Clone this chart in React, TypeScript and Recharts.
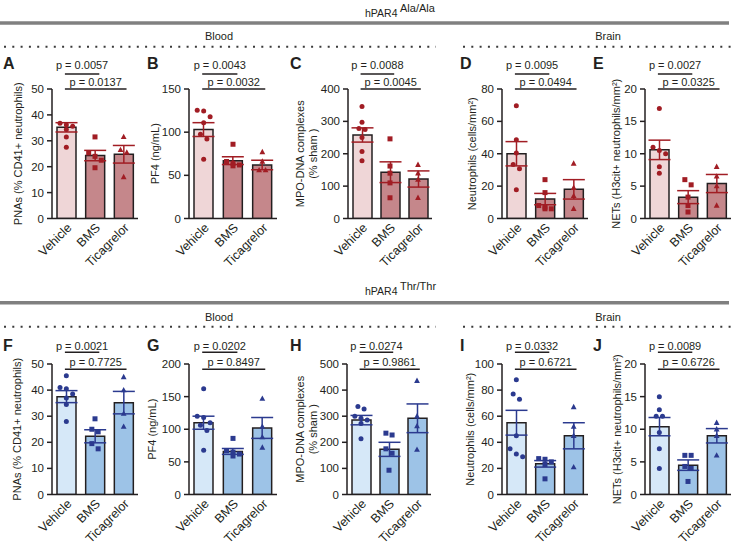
import React from "react";
import {
  Bar,
  Cell,
  ComposedChart,
  ErrorBar,
  ReferenceLine,
  Scatter,
  XAxis,
  YAxis,
} from "recharts";

const FONT = "'Liberation Sans', Arial, Helvetica, sans-serif";
const INK = "#231f20";

const GROUPS = ["Vehicle", "BMS", "Ticagrelor"];

// hPAR4 Ala/Ala
const A_MEAN = [35.2, 24.3, 24.8];
const A_SEM = [1.8, 2.0, 3.4];
const A_VEH = [36.8, 36.2, 35.6, 34.4, 31.5, 27.5];
const A_BMS = [31.5, 25.3, 24, 22.5, 19.6];
const A_TIC = [31.5, 26.5, 25.5, 16];
const A_P = ["p = 0.0057", "p = 0.0137"];
const A_TICKS = [0, 10, 20, 30, 40, 50];

const B_MEAN = [103, 67, 62];
const B_SEM = [8, 4.5, 5.5];
const B_VEH = [125.5, 124.5, 118, 111, 97.5, 92, 68.5];
const B_BMS = [86, 66, 64, 62, 61];
const B_TIC = [77, 66, 56, 56];
const B_P = ["p = 0.0043", "p = 0.0032"];
const B_TICKS = [0, 50, 100, 150];

const C_MEAN = [258, 143, 122];
const C_SEM = [22, 32, 25];
const C_VEH = [346, 297, 278, 275, 250, 207, 178];
const C_BMS = [246, 162, 140, 110, 64];
const C_TIC = [166, 140, 120, 64];
const C_P = ["p = 0.0088", "p = 0.0045"];
const C_TICKS = [0, 100, 200, 300, 400];

const D_MEAN = [40, 12, 18];
const D_SEM = [7.5, 3.5, 6];
const D_VEH = [69.7, 48.6, 40.4, 33.4, 30.8, 17.8];
const D_BMS = [24, 16, 8, 7, 6, 6];
const D_TIC = [34, 19, 14, 6];
const D_P = ["p = 0.0095", "p = 0.0494"];
const D_TICKS = [0, 20, 40, 60, 80];

const E_MEAN = [10.6, 3.3, 5.4];
const E_SEM = [1.5, 1.0, 1.4];
const E_VEH = [17, 11, 10.5, 10, 8, 7];
const E_BMS = [6, 5.2, 3.3, 2, 1];
const E_TIC = [8, 6.5, 5, 2];
const E_P = ["p = 0.0027", "p = 0.0325"];
const E_TICKS = [0, 5, 10, 15, 20];

// hPAR4 Thr/Thr
const F_MEAN = [37.5, 22.3, 35.2];
const F_SEM = [2.3, 2.5, 4.3];
const F_VEH = [45.5, 41, 40.5, 38.5, 37, 34.5, 28];
const F_BMS = [29, 25, 24, 19.5, 17.5];
const F_TIC = [45, 40, 31, 26];
const F_P = ["p = 0.0021", "p = 0.7725"];
const F_TICKS = [0, 10, 20, 30, 40, 50];

const G_MEAN = [110, 66, 102];
const G_SEM = [10, 4.5, 16];
const G_VEH = [162, 120, 118, 110, 106, 98, 68];
const G_BMS = [86, 67, 65, 62, 59];
const G_TIC = [147, 104, 88, 72];
const G_P = ["p = 0.0202", "p = 0.8497"];
const G_TICKS = [0, 50, 100, 150, 200];

const H_MEAN = [285, 173, 292];
const H_SEM = [18, 27, 55];
const H_VEH = [337, 328, 300, 292, 285, 272, 214];
const H_BMS = [235, 228, 175, 158, 93];
const H_TIC = [436, 300, 262, 172];
const H_P = ["p = 0.0274", "p = 0.9861"];
const H_TICKS = [0, 100, 200, 300, 400, 500];

const I_MEAN = [55, 23.5, 45];
const I_SEM = [9.5, 2.5, 10];
const I_VEH = [88, 77, 73, 45, 35, 31, 29];
const I_BMS = [27.5, 27, 25, 23, 12];
const I_TIC = [67, 52, 45, 21];
const I_P = ["p = 0.0332", "p = 0.6721"];
const I_TICKS = [0, 20, 40, 60, 80, 100];

const J_MEAN = [10.4, 4.5, 9.0];
const J_SEM = [1.4, 0.8, 1.1];
const J_VEH = [15, 13, 12, 12, 9.5, 7, 4];
const J_BMS = [6, 6, 4.3, 4, 2];
const J_TIC = [11, 10, 9, 6];
const J_P = ["p = 0.0089", "p = 0.6726"];
const J_TICKS = [0, 5, 10, 15, 20];

const RED = { light: "#efd6d7", dark: "#c5878b", point: "#a11d24" };
const BLUE = { light: "#d6e8f8", dark: "#9dc3e7", point: "#2b3a8f" };

const TOP_ROW = { top: 89, bottom: 218.5, brackets: [1.115, 1.0], offsets: [5, 3] };
const BOT_ROW = { top: 364, bottom: 494.5, brackets: [1.09, 0.96], offsets: [2, 3] };

const PANELS = [
  { id: "A", row: TOP_ROW, left: 52, right: 138, max: 50, ticks: A_TICKS, mean: A_MEAN, sem: A_SEM, pts: [A_VEH, A_BMS, A_TIC], p: A_P, theme: RED, ylabel: ["PNAs (% CD41+ neutrophils)"], lx: [18] },
  { id: "B", row: TOP_ROW, left: 189, right: 277, max: 150, ticks: B_TICKS, mean: B_MEAN, sem: B_SEM, pts: [B_VEH, B_BMS, B_TIC], p: B_P, theme: RED, ylabel: ["PF4 (ng/mL)"], lx: [155] },
  { id: "C", row: TOP_ROW, left: 348, right: 432, max: 400, ticks: C_TICKS, mean: C_MEAN, sem: C_SEM, pts: [C_VEH, C_BMS, C_TIC], p: C_P, theme: RED, ylabel: ["MPO-DNA complexes", "(% sham )"], lx: [300, 313] },
  { id: "D", row: TOP_ROW, left: 502, right: 588, max: 80, ticks: D_TICKS, mean: D_MEAN, sem: D_SEM, pts: [D_VEH, D_BMS, D_TIC], p: D_P, theme: RED, ylabel: ["Neutrophils (cells/mm²)"], lx: [472] },
  { id: "E", row: TOP_ROW, left: 645, right: 731, max: 20, ticks: E_TICKS, mean: E_MEAN, sem: E_SEM, pts: [E_VEH, E_BMS, E_TIC], p: E_P, theme: RED, ylabel: ["NETs (H3cit+ neutrophils/mm²)"], lx: [616] },
  { id: "F", row: BOT_ROW, left: 52, right: 138, max: 50, ticks: F_TICKS, mean: F_MEAN, sem: F_SEM, pts: [F_VEH, F_BMS, F_TIC], p: F_P, theme: BLUE, ylabel: ["PNAs (% CD41+ neutrophils)"], lx: [17] },
  { id: "G", row: BOT_ROW, left: 189, right: 277, max: 200, ticks: G_TICKS, mean: G_MEAN, sem: G_SEM, pts: [G_VEH, G_BMS, G_TIC], p: G_P, theme: BLUE, ylabel: ["PF4 (ng/mL)"], lx: [152] },
  { id: "H", row: BOT_ROW, left: 347, right: 431, max: 500, ticks: H_TICKS, mean: H_MEAN, sem: H_SEM, pts: [H_VEH, H_BMS, H_TIC], p: H_P, theme: BLUE, ylabel: ["MPO-DNA complexes", "(% sham )"], lx: [300, 313] },
  { id: "I", row: BOT_ROW, left: 502, right: 588, max: 100, ticks: I_TICKS, mean: I_MEAN, sem: I_SEM, pts: [I_VEH, I_BMS, I_TIC], p: I_P, theme: BLUE, ylabel: ["Neutrophils (cells/mm²)"], lx: [470] },
  { id: "J", row: BOT_ROW, left: 645, right: 731, max: 20, ticks: J_TICKS, mean: J_MEAN, sem: J_SEM, pts: [J_VEH, J_BMS, J_TIC], p: J_P, theme: BLUE, ylabel: ["NETs (H3cit+ neutrophils/mm²)"], lx: [617] },
];

const YW = 56; // y axis area
const MT = 40;
const MR = 4;
const XH = 60;

// spread points that sit close together, like a prism scatter
function spread(values: number[], max: number) {
  const order = values.map((v, i) => ({ v, i })).sort((a, b) => b.v - a.v);
  const out = new Array(values.length).fill(0);
  let group: { v: number; i: number }[] = [];
  const flush = () => {
    const n = group.length;
    group.forEach((g, k) => (out[g.i] = (k - (n - 1) / 2) * 0.22));
    group = [];
  };
  order.forEach((o) => {
    if (group.length && (group[group.length - 1].v - o.v > max * 0.045 || group.length >= 3)) flush();
    group.push(o);
  });
  flush();
  return out;
}

const marker = (kind: number, color: string) => (props: any) => {
  const { cx, cy } = props;
  if (cx == null || cy == null) return <g />;
  if (kind === 0) return <circle cx={cx} cy={cy} r={2.5} fill={color} />;
  if (kind === 1) return <rect x={cx - 2.5} y={cy - 2.5} width={5} height={5} fill={color} />;
  return <polygon points={`${cx},${cy - 3.2} ${cx + 2.9},${cy + 2.2} ${cx - 2.9},${cy + 2.2}`} fill={color} />;
};

function RotTick(props: any) {
  const { x, y, payload } = props;
  const ax = x + 6;
  const ay = y + 10;
  return (
    <text x={ax} y={ay} transform={`rotate(-45 ${ax} ${ay})`} textAnchor="end" fontSize={12.5} fill={INK} fontFamily={FONT}>
      {payload.value}
    </text>
  );
}

function Panel({ p }: { p: any }) {
  const { top, bottom, brackets, offsets } = p.row;
  const w = p.right - p.left + YW + MR;
  const h = bottom - top + MT + XH;
  const data = GROUPS.map((g, i) => ({ name: g, mean: p.mean[i], sem: p.sem[i] }));
  const line1 = p.max * brackets[0];
  const line2 = p.max * brackets[1];
  return (
    <div style={{ position: "absolute", left: p.left - YW, top: top - MT }}>
      <ComposedChart width={w} height={h} data={data} margin={{ top: MT, right: MR, left: 0, bottom: 0 }}>
        <XAxis
          xAxisId="cat"
          dataKey="name"
          type="category"
          height={XH}
          interval={0}
          tickLine={false}
          tickSize={0}
          tickMargin={0}
          axisLine={{ stroke: INK, strokeWidth: 1.5 }}
          tick={<RotTick />}
        />
        <XAxis xAxisId="num" dataKey="x" type="number" domain={[-0.5, 2.5]} allowDataOverflow hide />
        <YAxis
          width={YW}
          type="number"
          domain={[0, p.max]}
          ticks={p.ticks}
          interval={0}
          allowDataOverflow
          tickSize={5}
          tickMargin={3}
          axisLine={{ stroke: INK, strokeWidth: 1.5 }}
          tickLine={{ stroke: INK, strokeWidth: 1.5 }}
          tick={{ fontSize: 11.5, fill: INK, fontFamily: FONT }}
        />
        <Bar xAxisId="cat" dataKey="mean" barSize={19} stroke={INK} strokeWidth={1.5} isAnimationActive={false}>
          {GROUPS.map((g, i) => (
            <Cell key={g} fill={i === 0 ? p.theme.light : p.theme.dark} />
          ))}
          <ErrorBar dataKey="sem" width={11} stroke={p.theme.point} strokeWidth={1.5} direction="y" />
        </Bar>
        {GROUPS.map((g, gi) => {
          const off = spread(p.pts[gi], p.max);
          const pts = p.pts[gi].map((v: number, k: number) => ({ x: gi + off[k], y: v }));
          return (
            <Scatter
              key={g}
              xAxisId="num"
              data={pts}
              dataKey="y"
              shape={marker(gi, p.theme.point)}
              isAnimationActive={false}
            />
          );
        })}
        <ReferenceLine
          xAxisId="num"
          ifOverflow="visible"
          segment={[{ x: -0.05, y: line1 }, { x: 1.15, y: line1 }]}
          stroke={INK}
          strokeWidth={1.5}
          label={{ value: p.p[0], position: "top", offset: offsets[0], fontSize: 11, fill: INK, fontFamily: FONT }}
        />
        <ReferenceLine
          xAxisId="num"
          ifOverflow="visible"
          segment={[{ x: -0.05, y: line2 }, { x: 2.1, y: line2 }]}
          stroke={INK}
          strokeWidth={1.5}
          label={{ value: p.p[1], position: "top", offset: offsets[1], fontSize: 11, fill: INK, fontFamily: FONT }}
        />
      </ComposedChart>
    </div>
  );
}

function Header({ y, sup, lineY, subY, dotY }: any) {
  return (
    <g fontFamily={FONT} fill={INK}>
      <text x={365} y={y} fontSize={10.5}>hPAR4</text>
      <text x={400} y={y - 5.5} fontSize={11}>{sup}</text>
      <line x1={0} x2={729} y1={lineY} y2={lineY} stroke="#808080" strokeWidth={3.5} />
      <text x={219} y={subY} fontSize={11} textAnchor="middle">Blood</text>
      <text x={608} y={subY} fontSize={11} textAnchor="middle">Brain</text>
      <line x1={4} x2={436} y1={dotY} y2={dotY} stroke="#3a3a3a" strokeWidth={2} strokeDasharray="2 6.3" />
      <line x1={463} x2={733} y1={dotY} y2={dotY} stroke="#3a3a3a" strokeWidth={2} strokeDasharray="2 6.3" />
    </g>
  );
}

const LETTER_X = [3, 147, 290, 460, 593];

export default function App() {
  return (
    <div style={{ position: "absolute", left: 0, top: 0, width: 733, height: 549, background: "#fff", overflow: "hidden" }}>
      <svg width={733} height={549} style={{ position: "absolute", left: 0, top: 0 }}>
        <Header y={17.3} sup="Ala/Ala" lineY={23} subY={40} dotY={46.7} />
        <Header y={295} sup="Thr/Thr" lineY={302.7} subY={320.5} dotY={326.7} />
        {PANELS.map((p, i) => (
          <text
            key={p.id}
            x={LETTER_X[i % 5]}
            y={i < 5 ? 68.5 : 350.5}
            fontSize={16}
            fontWeight="bold"
            fontFamily={FONT}
            fill={INK}
          >
            {p.id}
          </text>
        ))}
        {PANELS.map((p) =>
          p.ylabel.map((t: string, k: number) => {
            const cy = (p.row.top + p.row.bottom) / 2;
            return (
              <text
                key={p.id + k}
                x={p.lx[k]}
                y={cy}
                transform={`rotate(-90 ${p.lx[k]} ${cy})`}
                textAnchor="middle"
                dominantBaseline="central"
                fontSize={11}
                fontFamily={FONT}
                fill={INK}
              >
                {t}
              </text>
            );
          })
        )}
      </svg>
      {PANELS.map((p) => (
        <Panel key={p.id} p={p} />
      ))}
    </div>
  );
}
